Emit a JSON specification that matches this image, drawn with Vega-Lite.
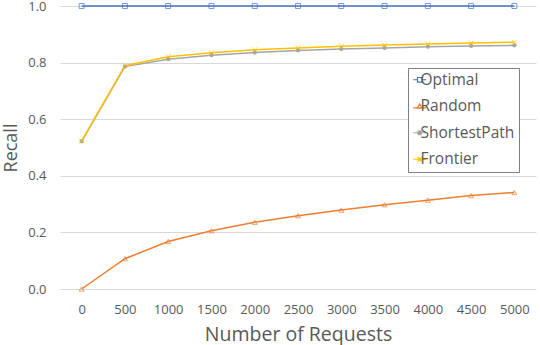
{
  "$schema": "https://vega.github.io/schema/vega-lite/v6.json",
  "width": 476,
  "height": 283,
  "autosize": "none",
  "padding": {"left": 60, "top": 6, "right": 4, "bottom": 56},
  "background": "white",
  "config": {
    "view": {"stroke": null},
    "font": "Open Sans",
    "axis": {"labelColor": "#595959", "titleColor": "#595959", "labelFont": "Open Sans", "titleFont": "Open Sans", "titleFontWeight": "normal"}
  },
  "data": {
    "values": [
      {"n": 0, "series": "Optimal", "recall": 1.0},
      {"n": 500, "series": "Optimal", "recall": 1.0},
      {"n": 1000, "series": "Optimal", "recall": 1.0},
      {"n": 1500, "series": "Optimal", "recall": 1.0},
      {"n": 2000, "series": "Optimal", "recall": 1.0},
      {"n": 2500, "series": "Optimal", "recall": 1.0},
      {"n": 3000, "series": "Optimal", "recall": 1.0},
      {"n": 3500, "series": "Optimal", "recall": 1.0},
      {"n": 4000, "series": "Optimal", "recall": 1.0},
      {"n": 4500, "series": "Optimal", "recall": 1.0},
      {"n": 5000, "series": "Optimal", "recall": 1.0},
      {"n": 0, "series": "Random", "recall": 0.0},
      {"n": 500, "series": "Random", "recall": 0.107},
      {"n": 1000, "series": "Random", "recall": 0.168},
      {"n": 1500, "series": "Random", "recall": 0.206},
      {"n": 2000, "series": "Random", "recall": 0.236},
      {"n": 2500, "series": "Random", "recall": 0.259},
      {"n": 3000, "series": "Random", "recall": 0.279},
      {"n": 3500, "series": "Random", "recall": 0.298},
      {"n": 4000, "series": "Random", "recall": 0.314},
      {"n": 4500, "series": "Random", "recall": 0.330},
      {"n": 5000, "series": "Random", "recall": 0.341},
      {"n": 0, "series": "ShortestPath", "recall": 0.522},
      {"n": 500, "series": "ShortestPath", "recall": 0.786},
      {"n": 1000, "series": "ShortestPath", "recall": 0.812},
      {"n": 1500, "series": "ShortestPath", "recall": 0.826},
      {"n": 2000, "series": "ShortestPath", "recall": 0.836},
      {"n": 2500, "series": "ShortestPath", "recall": 0.843},
      {"n": 3000, "series": "ShortestPath", "recall": 0.848},
      {"n": 3500, "series": "ShortestPath", "recall": 0.852},
      {"n": 4000, "series": "ShortestPath", "recall": 0.856},
      {"n": 4500, "series": "ShortestPath", "recall": 0.859},
      {"n": 5000, "series": "ShortestPath", "recall": 0.861},
      {"n": 0, "series": "Frontier", "recall": 0.523},
      {"n": 500, "series": "Frontier", "recall": 0.789},
      {"n": 1000, "series": "Frontier", "recall": 0.821},
      {"n": 1500, "series": "Frontier", "recall": 0.835},
      {"n": 2000, "series": "Frontier", "recall": 0.845},
      {"n": 2500, "series": "Frontier", "recall": 0.852},
      {"n": 3000, "series": "Frontier", "recall": 0.858},
      {"n": 3500, "series": "Frontier", "recall": 0.862},
      {"n": 4000, "series": "Frontier", "recall": 0.866},
      {"n": 4500, "series": "Frontier", "recall": 0.869},
      {"n": 5000, "series": "Frontier", "recall": 0.872}
    ]
  },
  "encoding": {
    "x": {
      "field": "n", "type": "ordinal",
      "scale": {"type": "point", "padding": 0.5},
      "axis": {"title": "Number of Requests", "labelAngle": 0, "grid": false, "domain": false, "ticks": false, "labelFontSize": 13, "labelPadding": 14, "titleFontSize": 19.5, "titlePadding": 9}
    },
    "y": {
      "field": "recall", "type": "quantitative",
      "scale": {"domain": [0, 1]},
      "axis": {"title": "Recall", "values": [0, 0.2, 0.4, 0.6, 0.8, 1.0], "format": ".1f", "domain": false, "ticks": false, "gridColor": "#d9d9d9", "gridWidth": 1, "labelFontSize": 13, "labelPadding": 14, "titleFontSize": 18, "titlePadding": 7}
    }
  },
  "layer": [
    {
      "mark": {"type": "line", "strokeWidth": 1.5},
      "encoding": {
        "color": {
          "field": "series", "type": "nominal",
          "sort": ["Optimal", "Random", "ShortestPath", "Frontier"],
          "scale": {"domain": ["Optimal", "Random", "ShortestPath", "Frontier"], "range": ["#4472C4", "#ED7D31", "#A5A5A5", "#FFC000"]},
          "legend": {
            "title": null,
            "orient": "none",
            "legendX": 348,
            "legendY": 62,
            "padding": 4,
            "strokeColor": "#808080",
            "fillColor": "white",
            "labelFontSize": 15.5,
            "labelColor": "#595959",
            "labelFont": "Open Sans",
            "labelOffset": -7,
            "rowPadding": 9.5,
            "symbolSize": 169,
            "symbolStrokeWidth": 1.2,
            "encode": {
              "symbols": {
                "update": {
                  "shape": {"signal": "datum.value === 'Optimal' ? 'M-1,0H-0.35M0.35,0H1M-0.35,-0.35H0.35V0.35H-0.35Z' : datum.value === 'Random' ? 'M-1,0.25H1M0,-0.35L0.4,0.28H-0.4Z' : datum.value === 'ShortestPath' ? 'M-1,0H1M0.3,0A0.3,0.3,0,1,1,-0.3,0A0.3,0.3,0,1,1,0.3,0Z' : 'M-1,0H1M-0.35,-0.35L0.35,0.35M-0.35,0.35L0.35,-0.35'"},
                  "fill": {"signal": "datum.value === 'ShortestPath' ? '#A5A5A5' : 'transparent'"}
                }
              }
            }
          }
        }
      }
    },
    {
      "transform": [{"filter": "datum.series === 'Optimal'"}],
      "mark": {"type": "point", "shape": "square", "filled": false, "size": 25, "strokeWidth": 1, "color": "#4472C4"},
      "encoding": {}
    },
    {
      "transform": [{"filter": "datum.series === 'Random'"}],
      "mark": {"type": "point", "shape": "triangle-up", "filled": false, "size": 25, "strokeWidth": 1, "color": "#ED7D31"},
      "encoding": {}
    },
    {
      "transform": [{"filter": "datum.series === 'ShortestPath'"}],
      "mark": {"type": "point", "shape": "circle", "filled": true, "size": 18, "opacity": 1, "color": "#A5A5A5"},
      "encoding": {}
    },
    {
      "transform": [{"filter": "datum.series === 'Frontier'"}],
      "mark": {"type": "point", "shape": "M-1,-1L1,1M-1,1L1,-1", "filled": false, "size": 25, "strokeWidth": 1, "color": "#FFC000"},
      "encoding": {}
    }
  ]
}
